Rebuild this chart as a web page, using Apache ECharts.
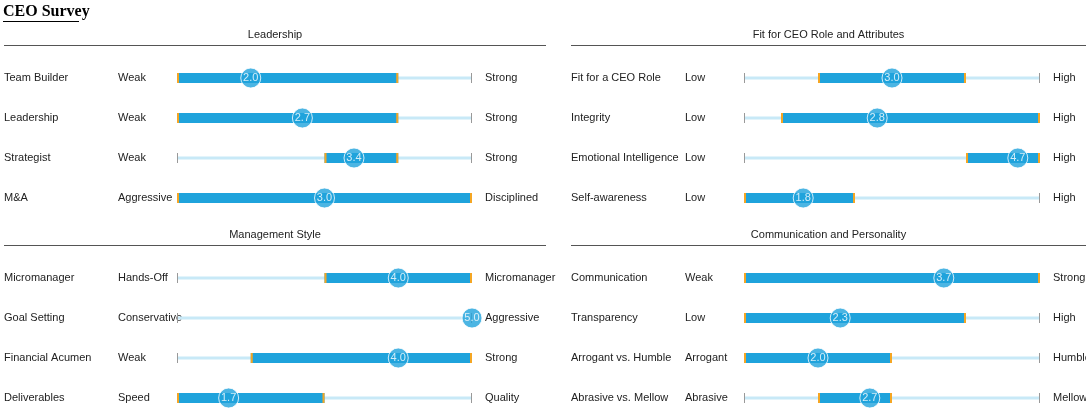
<!DOCTYPE html>
<html><head><meta charset="utf-8">
<script src="https://cdn.jsdelivr.net/npm/echarts@6/dist/echarts.min.js"></script>
<style>html,body{margin:0;padding:0;background:#fff}#c{width:1086px;height:419px}</style>
</head><body><div id="c"></div>
<script>
var panelTitles = ['Leadership', 'Fit for CEO Role and Attributes', 'Management Style', 'Communication and Personality'];
var rowNames = [
  ['Team Builder', 'Leadership', 'Strategist', 'M&A'],
  ['Fit for a CEO Role', 'Integrity', 'Emotional Intelligence', 'Self-awareness'],
  ['Micromanager', 'Goal Setting', 'Financial Acumen', 'Deliverables'],
  ['Communication', 'Transparency', 'Arrogant vs. Humble', 'Abrasive vs. Mellow']
];
var lowLabels = [
  ['Weak', 'Weak', 'Weak', 'Aggressive'],
  ['Low', 'Low', 'Low', 'Low'],
  ['Hands-Off', 'Conservative', 'Weak', 'Speed'],
  ['Weak', 'Low', 'Arrogant', 'Abrasive']
];
var highLabels = [
  ['Strong', 'Strong', 'Strong', 'Disciplined'],
  ['High', 'High', 'High', 'High'],
  ['Micromanager', 'Aggressive', 'Strong', 'Quality'],
  ['Strong', 'High', 'Humble', 'Mellow']
];
var rangeLow = [[1, 1, 3, 1], [2, 1.5, 4, 1], [3, 5, 2, 1], [1, 1, 1, 2]];
var rangeHigh = [[4, 4, 4, 5], [4, 5, 5, 2.5], [5, 5, 5, 3], [5, 4, 3, 3]];
var scores = [[2.0, 2.7, 3.4, 3.0], [3.0, 2.8, 4.7, 1.8], [4.0, 5.0, 4.0, 1.7], [3.7, 2.3, 2.0, 2.7]];

var chart = echarts.init(document.getElementById('c'));
var FONT = 'Liberation Sans';
var blue = '#1fa3dc', track = '#c8e9f7', orange = '#f5a623';

var gridPos = [
  { left: 177, width: 295, top: 58 },
  { left: 744, width: 296, top: 58 },
  { left: 177, width: 295, top: 258 },
  { left: 744, width: 296, top: 258 }
];
var grids = [], xAxes = [], yAxes = [], series = [];
var graphics = [
  { type: 'text', left: 3, top: 4, style: { text: 'CEO Survey', font: 'bold 16px "Liberation Serif"', fill: '#000' } },
  { type: 'rect', shape: { x: 3, y: 21, width: 76, height: 1 }, style: { fill: '#000' } }
];
var panelX = [[4, 546], [571, 1086]];

gridPos.forEach(function (g, p) {
  grids.push({ left: g.left, width: g.width, top: g.top, height: 160 });
  xAxes.push({ gridIndex: p, type: 'value', min: 1, max: 5, show: false });
  yAxes.push({ gridIndex: p, type: 'category', inverse: true, data: rowNames[p], show: false });
  var px = panelX[p % 2], ty = p < 2 ? 35 : 235;
  graphics.push({ type: 'text', x: (px[0] + px[1]) / 2, y: ty,
    style: { text: panelTitles[p], font: '11px ' + FONT, fill: '#222', align: 'center', verticalAlign: 'middle' } });
  graphics.push({ type: 'rect', shape: { x: px[0], y: ty + 10, width: px[1] - px[0], height: 1 }, style: { fill: '#555' } });

  var data = rowNames[p].map(function (n, i) { return [i, rangeLow[p][i], rangeHigh[p][i], scores[p][i]]; });
  series.push({
    type: 'custom', xAxisIndex: p, yAxisIndex: p, data: data,
    renderItem: function (params, api) {
      var i = api.value(0);
      var a = api.coord([1, i]), b = api.coord([5, i]);
      var lo = api.coord([api.value(1), i]), hi = api.coord([api.value(2), i]);
      var y = a[1];
      var txt = function (x, s, align) {
        return { type: 'text', style: { x: x, y: y, text: s, font: '11px ' + FONT, fill: '#222', align: align || 'left', verticalAlign: 'middle' } };
      };
      var ch = [
        txt(g.left - 173, rowNames[p][i]),
        txt(g.left - 59, lowLabels[p][i]),
        txt(g.left + g.width + 13, highLabels[p][i]),
        { type: 'rect', shape: { x: a[0], y: y - 1.5, width: b[0] - a[0], height: 3 }, style: { fill: track } },
        { type: 'rect', shape: { x: a[0], y: y - 5, width: 1, height: 10 }, style: { fill: '#999' } },
        { type: 'rect', shape: { x: b[0] - 1, y: y - 5, width: 1, height: 10 }, style: { fill: '#999' } }
      ];
      if (hi[0] - lo[0] > 0) {
        ch.push({ type: 'rect', shape: { x: lo[0], y: y - 5, width: hi[0] - lo[0], height: 10 }, style: { fill: blue } });
        ch.push({ type: 'rect', shape: { x: lo[0], y: y - 5, width: 2, height: 10 }, style: { fill: orange } });
        ch.push({ type: 'rect', shape: { x: hi[0] - 2, y: y - 5, width: 2, height: 10 }, style: { fill: orange } });
      }
      return { type: 'group', children: ch };
    }
  });
  series.push({
    type: 'scatter', xAxisIndex: p, yAxisIndex: p, symbolSize: 20,
    itemStyle: { color: blue, borderColor: '#fff', borderWidth: 1 },
    label: { show: true, position: 'inside', color: '#fff', fontFamily: FONT, fontSize: 11,
      formatter: function (d) { return d.value[0].toFixed(1); } },
    data: scores[p].map(function (s, i) { return [s, i]; }), z: 5
  });
});

chart.setOption({
  animation: false,
  grid: grids, xAxis: xAxes, yAxis: yAxes, series: series, graphic: graphics
});
</script></body></html>
